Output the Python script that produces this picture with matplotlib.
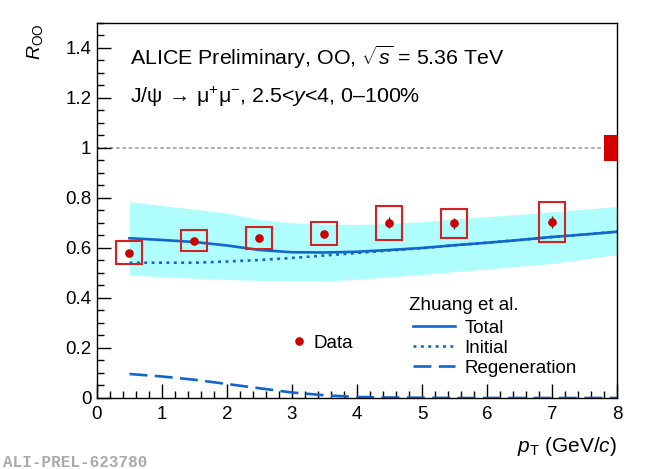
import matplotlib

matplotlib.use("Agg")
import matplotlib.pyplot as plt
from matplotlib.lines import Line2D
from matplotlib.patches import Rectangle

# ALICE data points
pt = [0.5, 1.5, 2.5, 3.5, 4.5, 5.5, 7.0]
r_oo = [0.581, 0.628, 0.640, 0.656, 0.700, 0.699, 0.705]
stat_err = [0.008, 0.008, 0.008, 0.010, 0.022, 0.022, 0.024]
syst_err = [0.045, 0.042, 0.043, 0.046, 0.068, 0.058, 0.080]
box_half_width = 0.2
global_unc = 0.052

# Zhuang et al. model
model_pt = [0.5, 1.0, 1.5, 2.0, 2.5, 3.0, 3.5, 4.0, 4.5, 5.0, 5.5, 6.0, 6.5, 7.0, 7.5, 8.0]
model_total = [0.639, 0.632, 0.624, 0.610, 0.592, 0.583, 0.582, 0.585, 0.592, 0.600,
               0.611, 0.621, 0.632, 0.644, 0.654, 0.665]
model_initial = [0.541, 0.541, 0.541, 0.546, 0.552, 0.560, 0.570, 0.580, 0.590, 0.599,
                 0.611, 0.621, 0.632, 0.644, 0.654, 0.665]
model_regen = [0.096, 0.086, 0.073, 0.056, 0.039, 0.022, 0.011, 0.004, 0.002, 0.001,
               0.0, 0.0, 0.0, 0.0, 0.0, 0.0]
model_upper = [0.785, 0.770, 0.755, 0.739, 0.714, 0.701, 0.696, 0.694, 0.698, 0.705,
               0.716, 0.725, 0.735, 0.745, 0.755, 0.766]
model_lower = [0.492, 0.485, 0.479, 0.474, 0.470, 0.468, 0.468, 0.475, 0.484, 0.494,
               0.505, 0.516, 0.527, 0.538, 0.556, 0.574]

RED = "#cc0000"
BOX_RED = "#d42222"
BLUE = "#1166cc"
BAND = "#b0fdfd"

plt.rcParams["font.family"] = ["Liberation Sans", "DejaVu Sans"]
plt.rcParams["mathtext.fontset"] = "custom"
plt.rcParams["mathtext.rm"] = "Liberation Sans"
plt.rcParams["mathtext.it"] = "Liberation Sans:italic"
plt.rcParams["mathtext.bf"] = "Liberation Sans:bold"

fig = plt.figure(figsize=(6.5, 4.69), dpi=100)
ax = fig.add_axes([0.1492, 0.1514, 0.8, 0.7996])

ax.fill_between(model_pt, model_lower, model_upper, color=BAND, lw=0, zorder=1)
ax.plot(model_pt, model_total, color=BLUE, lw=1.9, zorder=2)
ax.plot(model_pt, model_initial, color=BLUE, lw=1.9, dashes=(1.1, 1.7), zorder=2)
ax.plot(model_pt, model_regen, color=BLUE, lw=1.9, dashes=(6.8, 2.8), zorder=2)

# unity line and global normalisation uncertainty
ax.plot([0, 8 - box_half_width], [1, 1], color="#a0a0a0", lw=1.2,
        dashes=(2.2, 1.6), zorder=1)
ax.add_patch(Rectangle((8 - box_half_width, 1 - global_unc), box_half_width,
                       2 * global_unc, facecolor="#d40000", edgecolor="none", zorder=3))

for x, y, s in zip(pt, r_oo, syst_err):
    ax.add_patch(Rectangle((x - box_half_width, y - s), 2 * box_half_width, 2 * s,
                           facecolor="none", edgecolor=BOX_RED, lw=1.5, zorder=3))
ax.errorbar(pt, r_oo, yerr=stat_err, fmt="o", color=RED, ecolor="#333333",
            elinewidth=1.0, capsize=0, ms=5.2, zorder=4)

ax.set_xlim(0, 8)
ax.set_ylim(0, 1.5)
ax.set_xticks(range(9))
ax.set_yticks([0, 0.2, 0.4, 0.6, 0.8, 1.0, 1.2, 1.4])
ax.set_yticklabels(["0", "0.2", "0.4", "0.6", "0.8", "1", "1.2", "1.4"])
ax.set_xticks([i * 0.2 for i in range(41)], minor=True)
ax.set_yticks([i * 0.05 for i in range(31)], minor=True)
ax.tick_params(which="both", direction="in", top=False, right=False, labelsize=13.5,
               width=1.0, color="black")
ax.tick_params(which="major", length=10)
ax.tick_params(which="minor", length=5)
ax.tick_params(axis="x", pad=6)
ax.tick_params(axis="y", pad=4)
for spine in ax.spines.values():
    spine.set_linewidth(1.0)

ax.set_xlabel(r"$p_{\rm T}$ (GeV/$c$)", fontsize=15, loc="right")
ax.xaxis.set_label_coords(1.0, -0.1)
fig.text(0.0538, 0.951, r"$R_{\rm OO}$", fontsize=14, rotation=90, ha="center", va="top")

ax.text(0.064, 0.888, r"ALICE Preliminary, OO, $\sqrt{s}$ = 5.36 TeV", transform=ax.transAxes,
        fontsize=15.4, va="baseline")
ax.text(0.064, 0.786, r"J/ψ$\,\rightarrow\,$μ$^{+}$μ$^{-}$, 2.5<$y$<4, 0–100%",
        transform=ax.transAxes, fontsize=15.4, va="baseline")

data_handle = Line2D([], [], marker="o", color=RED, ls="none", ms=5.2)
leg1 = ax.legend([data_handle], ["Data"], loc="upper left", bbox_to_anchor=(0.374, 0.169),
                 frameon=False, fontsize=13.5, handlelength=0.8, handletextpad=0.35,
                 borderpad=0, borderaxespad=0)
ax.add_artist(leg1)

ax.text(0.6, 0.235, "Zhuang et al.", transform=ax.transAxes, fontsize=13.5, va="baseline")
model_handles = [
    Line2D([], [], color=BLUE, lw=1.9),
    Line2D([], [], color=BLUE, lw=1.9, dashes=(1.1, 1.7)),
    Line2D([], [], color=BLUE, lw=1.9, dashes=(6.8, 2.8)),
]
leg2 = ax.legend(model_handles, ["Total", "Initial", "Regeneration"], loc="center left",
                 bbox_to_anchor=(0.607, 0.1333), frameon=False, fontsize=13.5,
                 handlelength=2.24, handletextpad=0.53, labelspacing=0.15,
                 borderpad=0, borderaxespad=0)

fig.text(0.005, 0.004, "ALI-PREL-623780", fontsize=11.5, color="#aaaaaa",
         family=["Liberation Mono", "DejaVu Sans Mono"], weight="bold", va="baseline")

fig.savefig("out.png", dpi=100)
